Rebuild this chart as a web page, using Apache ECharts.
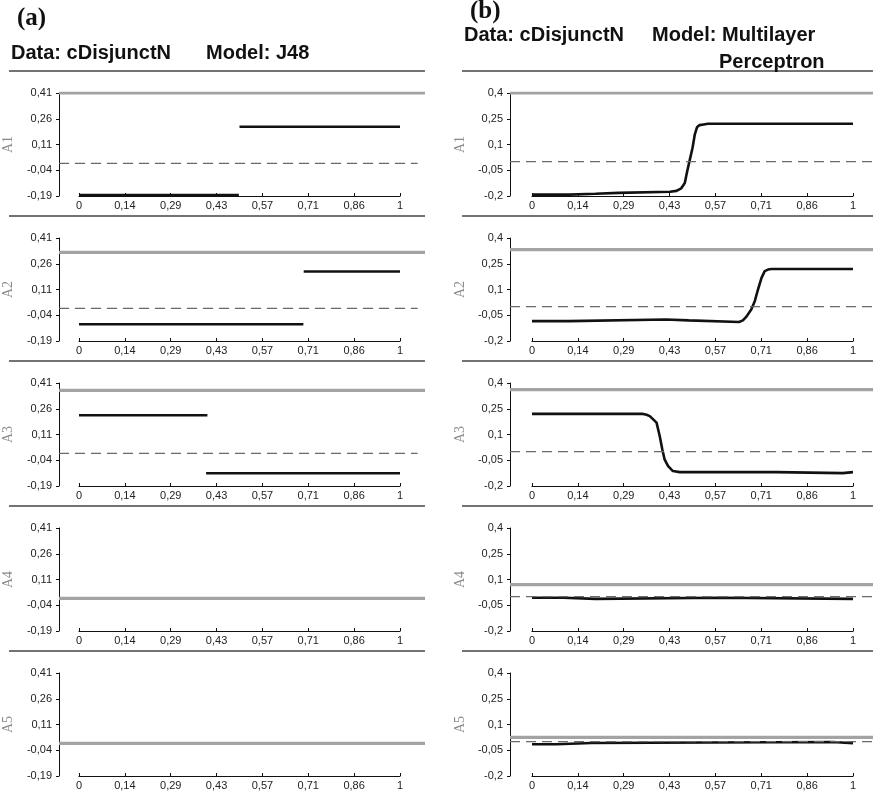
<!DOCTYPE html>
<html>
<head>
<meta charset="utf-8">
<script src="https://cdn.jsdelivr.net/npm/echarts@6/dist/echarts.min.js"></script>
<style>
html,body{margin:0;padding:0;background:#fff;}
#c{width:873px;height:796px;}
</style>
</head>
<body>
<div id="c"></div>
<script>
// ---------- data ----------
var featureNames = ['A1', 'A2', 'A3', 'A4', 'A5'];
var xTickValues = [0, 1/7, 2/7, 3/7, 4/7, 5/7, 6/7, 1];
var xTickLabels = ['0', '0,14', '0,29', '0,43', '0,57', '0,71', '0,86', '1'];
var yTicksLeft = [-0.19, -0.04, 0.11, 0.26, 0.41];
var yTickLabelsLeft = ['-0,19', '-0,04', '0,11', '0,26', '0,41'];
var yTicksRight = [-0.2, -0.05, 0.1, 0.25, 0.4];
var yTickLabelsRight = ['-0,2', '-0,05', '0,1', '0,25', '0,4'];

// gray horizontal level per feature
var grayLeft = [0.41, 0.326, 0.367, 0, 0];
var grayRight = [0.40, 0.332, 0.361, 0.07, 0.025];
// dashed baseline
var baseLeft = [0, 0, 0, 0, 0];
var baseRight = [0, 0, 0, 0, 0];

// J48 (left) black segments
var j48A1 = [[[0, -0.185], [0.498, -0.185]], [[0.5, 0.213], [1, 0.213]]];
var j48A2 = [[[0, -0.092], [0.699, -0.092]], [[0.70, 0.215], [1, 0.215]]];
var j48A3 = [[[0, 0.222], [0.40, 0.222]], [[0.396, -0.116], [1, -0.116]]];
var j48A4 = [];
var j48A5 = [];

// Multilayer Perceptron (right) black curves
var mlpA1 = [[0, -0.192], [0.116, -0.192], [0.118, -0.187], [0.198, -0.187], [0.2, -0.182], [0.27, -0.182], [0.272, -0.177],
  [0.43, -0.175], [0.45, -0.170], [0.465, -0.155], [0.476, -0.124], [0.483, -0.06], [0.491, 0.006],
  [0.50, 0.08], [0.507, 0.157], [0.514, 0.20], [0.522, 0.213], [0.535, 0.217], [0.548, 0.221], [1, 0.221]];
var mlpA2 = [[0, -0.084], [0.115, -0.084], [0.118, -0.075], [0.417, -0.075], [0.42, -0.080], [0.488, -0.080],
  [0.491, -0.089], [0.645, -0.089], [0.657, -0.080], [0.668, -0.058], [0.683, -0.016], [0.694, 0.032],
  [0.704, 0.10], [0.715, 0.168], [0.725, 0.207], [0.735, 0.216], [0.746, 0.219], [1, 0.219]];
var mlpA3 = [[0, 0.220], [0.346, 0.220], [0.357, 0.215], [0.367, 0.207], [0.388, 0.169], [0.398, 0.09],
  [0.406, 0.013], [0.413, -0.045], [0.424, -0.084], [0.439, -0.113], [0.46, -0.119], [0.76, -0.119],
  [0.763, -0.125], [0.968, -0.125], [0.971, -0.119], [1, -0.119]];
var mlpA4 = [[0, -0.006], [0.097, -0.006], [0.1, -0.013], [0.198, -0.013], [0.2, -0.006], [0.582, -0.006],
  [0.585, -0.013], [1, -0.013]];
var mlpA5 = [[0, -0.015], [0.076, -0.015], [0.078, -0.008], [0.185, -0.008], [0.187, -0.002], [0.938, -0.002],
  [0.94, -0.009], [1, -0.009]];

var leftSegments = [j48A1, j48A2, j48A3, j48A4, j48A5];
var rightCurves = [mlpA1, mlpA2, mlpA3, mlpA4, mlpA5];

// ---------- layout ----------
var ROW_TOP = 93, ROW_PITCH = 145, ROW_H = 103;
var cols = [
  {axisLeft: 57, overlayRight: 873 - 425, dataLeft: 79, dataRight: 873 - 400, dashEnd: 0.98,
   yMin: -0.19, yMax: 0.41, yTicks: yTicksLeft, yLabels: yTickLabelsLeft, gray: grayLeft, base: baseLeft, nameGap: 44},
  {axisLeft: 510, overlayRight: 0, dataLeft: 532, dataRight: 873 - 853, dashEnd: 1,
   yMin: -0.2, yMax: 0.4, yTicks: yTicksRight, yLabels: yTickLabelsRight, gray: grayRight, base: baseRight, nameGap: 43}
];

var grids = [], xAxes = [], yAxes = [], series = [];
var labelFont = 'Liberation Sans, Arial, sans-serif';

function fmtFrom(values, labels) {
  return function (v) {
    for (var i = 0; i < values.length; i++) if (Math.abs(values[i] - v) < 1e-6) return labels[i];
    return '';
  };
}

cols.forEach(function (col, c) {
  for (var r = 0; r < 5; r++) {
    var top = ROW_TOP + ROW_PITCH * r;
    // overlay grid (y axis + reference lines)
    var gOv = grids.length;
    grids.push({left: col.axisLeft, right: col.overlayRight, top: top, height: ROW_H, containLabel: false});
    xAxes.push({gridIndex: gOv, type: 'value', min: 0, max: 1, show: false});
    yAxes.push({
      gridIndex: gOv, type: 'value', min: col.yMin, max: col.yMax,
      name: featureNames[r], nameLocation: 'middle', nameGap: col.nameGap,
      nameTextStyle: {color: '#8a8a8a', fontFamily: 'Liberation Serif, DejaVu Serif, serif', fontSize: 14},
      axisLine: {show: true, lineStyle: {color: '#111', width: 1}},
      axisTick: {show: true, inside: false, length: 3, lineStyle: {color: '#111'}, customValues: col.yTicks},
      axisLabel: {show: true, color: '#222', fontSize: 11, fontFamily: labelFont, margin: 7,
        customValues: col.yTicks, formatter: fmtFrom(col.yTicks, col.yLabels)},
      splitLine: {show: false}
    });
    // data grid (x axis + black curves)
    var gD = grids.length;
    grids.push({left: col.dataLeft, right: col.dataRight, top: top, height: ROW_H, containLabel: false});
    xAxes.push({
      gridIndex: gD, type: 'value', min: 0, max: 1,
      axisLine: {show: true, onZero: false, lineStyle: {color: '#111', width: 1.2}},
      axisTick: {show: true, inside: true, length: 3, lineStyle: {color: '#111'}, customValues: xTickValues},
      axisLabel: {show: true, color: '#222', fontSize: 11, fontFamily: labelFont, margin: 4,
        customValues: xTickValues, formatter: fmtFrom(xTickValues, xTickLabels)},
      splitLine: {show: false}
    });
    yAxes.push({gridIndex: gD, type: 'value', min: col.yMin, max: col.yMax, show: false});

    // black data
    var blackList = c === 0 ? leftSegments[r] : [rightCurves[r]];
    blackList.forEach(function (seg) {
      series.push({type: 'line', xAxisIndex: gD, yAxisIndex: gD, data: seg, showSymbol: false, symbol: 'none',
        lineStyle: {color: '#111', width: 2.6}, z: 3, silent: true, animation: false});
    });
    // dashed baseline
    series.push({type: 'line', xAxisIndex: gOv, yAxisIndex: gOv,
      data: [[0, col.base[r]], [col.dashEnd, col.base[r]]], symbol: 'none',
      lineStyle: {color: '#6a6a6a', width: 1.4, type: [10, 6]}, z: 4, silent: true, animation: false});
    // gray level
    series.push({type: 'line', xAxisIndex: gOv, yAxisIndex: gOv,
      data: [[0, col.gray[r]], [1, col.gray[r]]], symbol: 'none',
      lineStyle: {color: '#a3a3a3', width: 3.2}, z: 5, silent: true, animation: false});
  }
});

// separators and headings
var graphics = [];
for (var k = 0; k < 5; k++) {
  var y = 71 + ROW_PITCH * k;
  graphics.push({type: 'line', shape: {x1: 9, y1: y, x2: 425, y2: y}, style: {stroke: '#444', lineWidth: 1.3}});
  graphics.push({type: 'line', shape: {x1: 462, y1: y, x2: 873, y2: y}, style: {stroke: '#444', lineWidth: 1.3}});
}
var headFont = 'bold 20px "Liberation Sans", Arial, sans-serif';
var panelFont = 'bold 25px "Liberation Serif", "Times New Roman", serif';
function txt(x, y, s, font) {
  graphics.push({type: 'text', x: x, y: y, style: {text: s, font: font, fill: '#111', textVerticalAlign: 'middle', textAlign: 'left'}});
}
txt(17, 19, '(a)', panelFont);
txt(11, 53, 'Data: cDisjunctN', headFont);
txt(206, 53, 'Model: J48', headFont);
txt(470, 12, '(b)', panelFont);
txt(464, 35, 'Data: cDisjunctN', headFont);
txt(652, 35, 'Model: Multilayer', headFont);
txt(719, 62, 'Perceptron', headFont);

var chart = echarts.init(document.getElementById('c'), null, {renderer: 'canvas'});
chart.setOption({
  animation: false,
  backgroundColor: '#fff',
  grid: grids, xAxis: xAxes, yAxis: yAxes, series: series,
  graphic: graphics
});
</script>
</body>
</html>
